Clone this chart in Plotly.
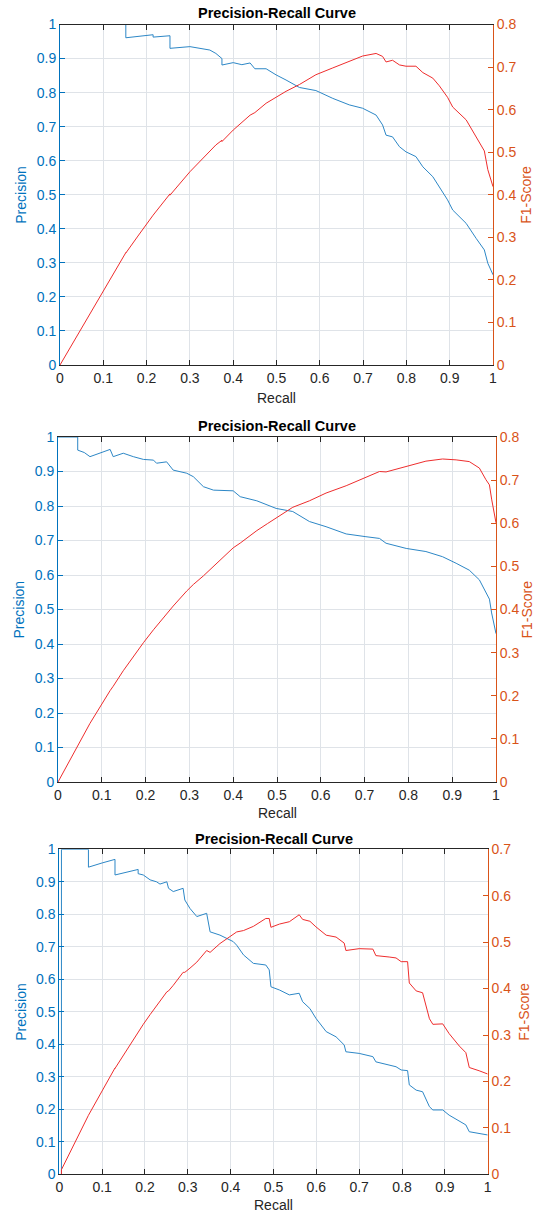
import plotly.graph_objects as go

# ---------------- data ----------------
recall_1 = [0, 0.152, 0.152, 0.18, 0.215, 0.215, 0.254, 0.254, 0.30, 0.346, 0.36, 0.374, 0.374, 0.40, 0.42,
            0.439, 0.45, 0.476, 0.499, 0.522, 0.553, 0.591, 0.630, 0.668, 0.699, 0.730, 0.745, 0.753, 0.768,
            0.784, 0.799, 0.822, 0.838, 0.861, 0.876, 0.895, 0.907, 0.938, 0.961, 0.980, 0.988, 1.0]
precision_1 = [1, 1, 0.961, 0.965, 0.970, 0.963, 0.967, 0.930, 0.935, 0.925, 0.915, 0.90, 0.881, 0.888, 0.882,
               0.887, 0.870, 0.870, 0.852, 0.837, 0.815, 0.806, 0.783, 0.764, 0.754, 0.734, 0.705, 0.675, 0.670,
               0.641, 0.626, 0.612, 0.582, 0.553, 0.524, 0.485, 0.455, 0.416, 0.372, 0.338, 0.299, 0.265]
f1_1 = [0, 0.264, 0.263, 0.303, 0.352, 0.352, 0.402, 0.399, 0.454, 0.504, 0.517, 0.528, 0.525, 0.552, 0.569,
        0.587, 0.593, 0.615, 0.629, 0.643, 0.659, 0.682, 0.698, 0.713, 0.726, 0.732, 0.725, 0.712, 0.716,
        0.705, 0.702, 0.702, 0.687, 0.674, 0.656, 0.629, 0.606, 0.576, 0.536, 0.503, 0.459, 0.419]

recall_2 = [0, 0.045, 0.045, 0.06, 0.073, 0.119, 0.126, 0.149, 0.172, 0.195, 0.218, 0.225, 0.248, 0.263, 0.294,
            0.309, 0.332, 0.355, 0.400, 0.416, 0.454, 0.478, 0.498, 0.536, 0.574, 0.612, 0.658, 0.703, 0.734,
            0.749, 0.795, 0.840, 0.878, 0.909, 0.939, 0.962, 0.977, 0.985, 0.990, 0.995, 1.0]
precision_2 = [1, 1, 0.962, 0.955, 0.943, 0.964, 0.943, 0.953, 0.943, 0.935, 0.933, 0.924, 0.928, 0.904, 0.895,
               0.885, 0.856, 0.846, 0.844, 0.827, 0.815, 0.803, 0.793, 0.784, 0.755, 0.740, 0.719, 0.711, 0.706,
               0.692, 0.677, 0.668, 0.653, 0.634, 0.614, 0.586, 0.547, 0.53, 0.49, 0.46, 0.43]
f1_2 = [0, 0.086, 0.086, 0.113, 0.136, 0.212, 0.222, 0.258, 0.291, 0.323, 0.353, 0.362, 0.391, 0.408, 0.443,
        0.458, 0.478, 0.500, 0.543, 0.554, 0.583, 0.599, 0.612, 0.637, 0.652, 0.670, 0.687, 0.707, 0.720,
        0.719, 0.731, 0.744, 0.749, 0.747, 0.743, 0.728, 0.701, 0.689, 0.656, 0.629, 0.601]

recall_3 = [0.005, 0.005, 0.068, 0.068, 0.10, 0.130, 0.130, 0.184, 0.184, 0.196, 0.212, 0.227, 0.235, 0.251,
            0.255, 0.266, 0.289, 0.293, 0.305, 0.321, 0.344, 0.348, 0.352, 0.375, 0.391, 0.406, 0.414, 0.430,
            0.453, 0.482, 0.490, 0.494, 0.514, 0.537, 0.560, 0.568, 0.585, 0.599, 0.623, 0.646, 0.665, 0.669,
            0.700, 0.732, 0.739, 0.770, 0.786, 0.798, 0.813, 0.817, 0.833, 0.848, 0.864, 0.872, 0.895, 0.910,
            0.934, 0.949, 0.957, 0.980, 1.0]
precision_3 = [0, 1, 1, 0.945, 0.958, 0.969, 0.921, 0.938, 0.925, 0.921, 0.906, 0.900, 0.893, 0.900,
               0.880, 0.870, 0.880, 0.844, 0.818, 0.793, 0.803, 0.772, 0.746, 0.736, 0.726, 0.716, 0.705, 0.675,
               0.649, 0.644, 0.629, 0.577, 0.567, 0.552, 0.557, 0.531, 0.51, 0.48, 0.439, 0.423, 0.398, 0.377,
               0.372, 0.362, 0.346, 0.336, 0.331, 0.321, 0.319, 0.275, 0.259, 0.254, 0.208, 0.198, 0.198, 0.182,
               0.162, 0.152, 0.131, 0.126, 0.121]
f1_3 = [0, 0.010, 0.127, 0.127, 0.181, 0.229, 0.228, 0.308, 0.307, 0.323, 0.344, 0.363, 0.372, 0.393,
        0.395, 0.407, 0.435, 0.435, 0.444, 0.457, 0.482, 0.480, 0.478, 0.497, 0.508, 0.518, 0.522, 0.525,
        0.534, 0.551, 0.551, 0.532, 0.539, 0.544, 0.559, 0.549, 0.545, 0.533, 0.515, 0.511, 0.498, 0.482,
        0.486, 0.485, 0.471, 0.468, 0.466, 0.458, 0.458, 0.412, 0.395, 0.391, 0.335, 0.323, 0.324, 0.303,
        0.276, 0.262, 0.230, 0.223, 0.216]

x_ticks = [0, 0.1, 0.2, 0.3, 0.4, 0.5, 0.6, 0.7, 0.8, 0.9, 1]
x_tick_labels = ["0", "0.1", "0.2", "0.3", "0.4", "0.5", "0.6", "0.7", "0.8", "0.9", "1"]
p_ticks = [0, 0.1, 0.2, 0.3, 0.4, 0.5, 0.6, 0.7, 0.8, 0.9, 1]
p_tick_labels = ["0", "0.1", "0.2", "0.3", "0.4", "0.5", "0.6", "0.7", "0.8", "0.9", "1"]
f1_max = [0.8, 0.8, 0.7]

title_text = "Precision-Recall Curve"
x_label = "Recall"
y_label = "Precision"
y2_label = "F1-Score"

# ---------------- layout geometry (pixels) ----------------
W, H = 536, 1213
boxes = [  # left, right, top, bottom
    (60, 493, 24.5, 365),
    (58, 496, 437, 782),
    (59.3, 487.7, 849.3, 1174.3),
]
title_y = [13, 426, 839]
xlabel_y = [398, 813, 1205]
ylabel_x = [21, 18, 21]
y2label_x = [526, 526, 524]

BLUE_AX = "#0072BD"
ORANGE_AX = "#D95319"
DARK = "#262626"
GRID = "rgb(223,227,232)"
LINE_BLUE = "rgb(45,135,198)"
LINE_RED = "rgb(238,45,45)"
FONT = "Liberation Sans, Arial, Helvetica, sans-serif"

series = [(recall_1, precision_1, f1_1), (recall_2, precision_2, f1_2), (recall_3, precision_3, f1_3)]

fig = go.Figure()
layout = dict(
    template="none",
    width=W, height=H, margin=dict(l=0, r=0, t=0, b=0, pad=0, autoexpand=False),
    paper_bgcolor="white", plot_bgcolor="white", showlegend=False,
    font=dict(family=FONT, size=14, color=DARK),
)
annotations = []

for i, ((L, R, T, B), (rc, pr, f1)) in enumerate(zip(boxes, series)):
    xn = "" if i == 0 else str(i + 1)
    yl = str(2 * i + 1) if i > 0 else ""
    yr = str(2 * i + 2)
    xdom = [L / W, R / W]
    ydom = [1 - B / H, 1 - T / H]

    fig.add_trace(go.Scatter(x=rc, y=pr, mode="lines", line=dict(color=LINE_BLUE, width=1),
                             xaxis="x" + xn, yaxis="y" + yl, name="Precision"))
    fig.add_trace(go.Scatter(x=rc, y=f1, mode="lines", line=dict(color=LINE_RED, width=1),
                             xaxis="x" + xn, yaxis="y" + yr, name="F1-Score"))

    layout["xaxis" + xn] = dict(
        domain=xdom, anchor="y" + yl, range=[0, 1], tickvals=x_ticks, ticktext=x_tick_labels,
        ticks="inside", ticklen=5, tickcolor=DARK, showline=True, linecolor=DARK, linewidth=1,
        mirror="ticks", showgrid=True, gridcolor=GRID, gridwidth=1, zeroline=False, automargin=False,
        tickfont=dict(family=FONT, size=14, color=DARK), fixedrange=True,
    )
    layout["yaxis" + yl] = dict(
        domain=ydom, anchor="x" + xn, range=[0, 1], tickvals=p_ticks, ticktext=p_tick_labels,
        ticks="inside", ticklen=5, tickcolor=BLUE_AX, showline=True, linecolor=BLUE_AX, linewidth=1,
        showgrid=True, gridcolor=GRID, gridwidth=1, zeroline=False, automargin=False,
        tickfont=dict(family=FONT, size=14, color=BLUE_AX), fixedrange=True,
    )
    m = f1_max[i]
    rt = [round(k * 0.1, 1) for k in range(int(round(m * 10)) + 1)]
    layout["yaxis" + yr] = dict(
        overlaying="y" + yl, side="right", anchor="x" + xn, range=[0, m], tickvals=rt,
        ticktext=[("0" if v == 0 else f"{v:g}") for v in rt],
        ticks="inside", ticklen=5, tickcolor=ORANGE_AX, showline=True, linecolor=ORANGE_AX, linewidth=1,
        showgrid=False, zeroline=False, automargin=False,
        tickfont=dict(family=FONT, size=14, color=ORANGE_AX), fixedrange=True,
    )

    cx = (L + R) / 2 / W
    cy = 1 - (T + B) / 2 / H
    annotations.append(dict(text="<b>" + title_text + "</b>", x=cx, y=1 - title_y[i] / H, xref="paper",
                            yref="paper", showarrow=False, xanchor="center", yanchor="middle",
                            font=dict(family=FONT, size=14.5, color="#000000")))
    annotations.append(dict(text=x_label, x=cx, y=1 - xlabel_y[i] / H, xref="paper", yref="paper",
                            showarrow=False, xanchor="center", yanchor="middle",
                            font=dict(family=FONT, size=14, color=DARK)))
    annotations.append(dict(text=y_label, x=ylabel_x[i] / W, y=cy, xref="paper", yref="paper",
                            showarrow=False, xanchor="center", yanchor="middle", textangle=-90,
                            font=dict(family=FONT, size=14, color=BLUE_AX)))
    annotations.append(dict(text=y2_label, x=y2label_x[i] / W, y=cy, xref="paper", yref="paper",
                            showarrow=False, xanchor="center", yanchor="middle", textangle=-90,
                            font=dict(family=FONT, size=14, color=ORANGE_AX)))

layout["annotations"] = annotations
fig.update_layout(**layout)
fig.write_html("out.html", config={"displayModeBar": False, "staticPlot": True},
               post_script="document.body.style.margin='0px';document.body.style.padding='0px';")
